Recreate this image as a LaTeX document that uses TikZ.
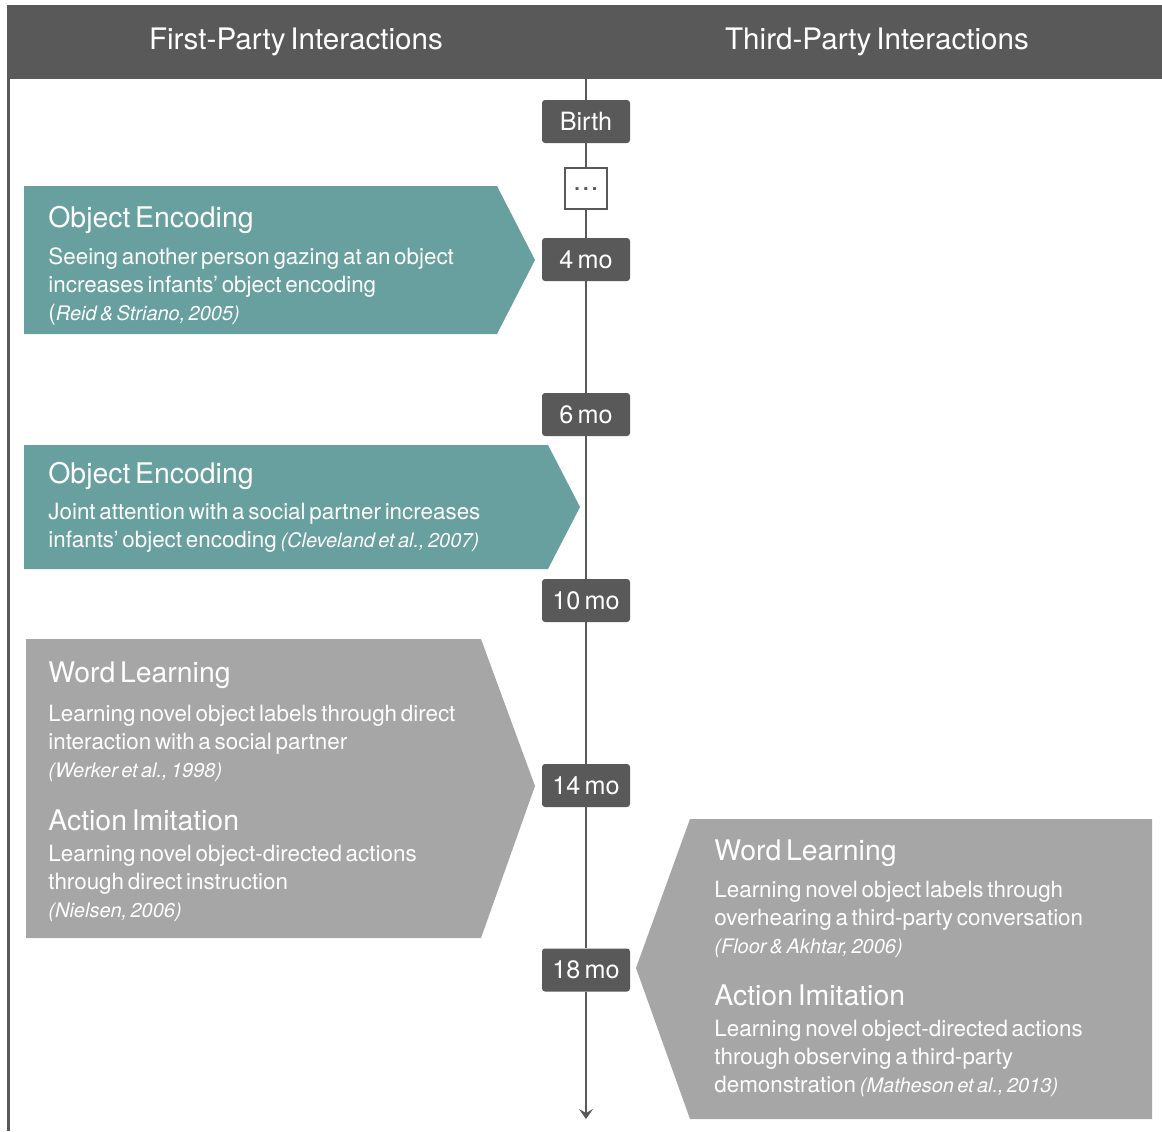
\documentclass[tikz,border=0pt]{standalone}
\usepackage{fontspec}
\setmainfont{TeX Gyre Heros}[WordSpace=0.6]
\usetikzlibrary{arrows.meta}

\definecolor{hdrgray}{HTML}{595959}
\definecolor{tealbox}{HTML}{68A0A0}
\definecolor{graybox}{HTML}{A6A6A6}

\newcommand{\cit}[1]{{\fontsize{10}{14}\selectfont\itshape #1}}

\tikzset{
  hdr/.style={text=white, inner sep=0pt, font=\fontsize{14.8}{16}\selectfont},
  agebox/.style={fill=hdrgray, text=white, rounded corners=1.5pt, minimum width=44pt,
    minimum height=21.5pt, inner sep=0pt, font=\fontsize{12.6}{14}\selectfont},
  dotsbox/.style={draw=hdrgray, line width=1pt, fill=white, minimum width=21pt,
    minimum height=20.5pt, inner sep=0pt, text=hdrgray},
  heading/.style={anchor=base west, text=white, inner sep=0pt, font=\fontsize{14.2}{16}\selectfont},
  blurb/.style={anchor=base west, align=left, text=white, inner sep=0pt,
    font=\fontsize{11.2}{14}\selectfont},
  timeline/.style={draw=hdrgray, line width=1pt}
}

\begin{document}
\begin{tikzpicture}[x=0.5pt, y=-0.5pt, >={Stealth[length=5pt, width=7pt, inset=2pt]}]
  \useasboundingbox (0,0) rectangle (1162,1131);

  % header band and left rule
  \fill[hdrgray] (7,5) rectangle (1162,79);
  \node[hdr] (firstparty) at (296,42) {First-Party Interactions};
  \node[hdr] (thirdparty) at (877,42) {Third-Party Interactions};
  \draw[hdrgray, line width=1.5pt] (8,79) -- (8,1131);

  % panels
  \fill[tealbox] (24,186) -- (497,186) -- (535,260) -- (497,334) -- (24,334) -- cycle;
  \fill[tealbox] (24,445) -- (548,445) -- (580,507) -- (548,569) -- (24,569) -- cycle;
  \fill[graybox] (26,639) -- (481,639) -- (535,786) -- (481,938) -- (26,938) -- cycle;
  \fill[graybox] (690,819) -- (1152,819) -- (1152,1119) -- (690,1119) -- (636,968) -- cycle;

  % ages on the timeline
  \coordinate (tltop) at (586,79);
  \coordinate (tlend) at (586,1119);
  \node[agebox] (birth) at (586,121.5) {Birth};
  \node[dotsbox] (dots) at (586,188) {\raisebox{-2pt}{\textbf{.\hspace{1.6pt}.\hspace{1.6pt}.}}};
  \node[agebox] (m4) at (586,259.5) {4 mo};
  \node[agebox] (m6) at (586,414.5) {6 mo};
  \node[agebox] (m10) at (586,600.5) {10 mo};
  \node[agebox] (m14) at (586,785.5) {14 mo};
  \node[agebox] (m18) at (586,970) {18 mo};
  \draw[timeline] (tltop) -- (birth) -- (dots) -- (m4) -- (m6) -- (m10) -- (m14) -- (m18);
  \draw[timeline, ->] (m18) -- (tlend);

  % first-party texts (blurbs sit on their last line)
  \node[heading] (enc1title) at (48,227) {Object Encoding};
  \node[blurb] (enc1text) at (48,320) {Seeing another person gazing at an object\\
    increases infants’ object encoding\\(\cit{Reid \& Striano, 2005)}};
  \node[heading] (enc2title) at (48,483) {Object Encoding};
  \node[blurb] (enc2text) at (48,547) {Joint attention with a social partner increases\\
    infants’ object encoding \cit{(Cleveland et al., 2007)}};
  \node[heading] (word1title) at (48,682) {Word Learning};
  \node[blurb] (word1text) at (48,777) {Learning novel object labels through direct\\
    interaction with a social partner\\\cit{(Werker et al., 1998)}};
  \node[heading] (act1title) at (48,830) {Action Imitation};
  \node[blurb] (act1text) at (48,917) {Learning novel object-directed actions\\
    through direct instruction\\\cit{(Nielsen, 2006)}};

  % third-party texts
  \node[heading] (word2title) at (714,860) {Word Learning};
  \node[blurb] (word2text) at (714,953) {Learning novel object labels through\\
    overhearing a third-party conversation\\\cit{(Floor \& Akhtar, 2006)}};
  \node[heading] (act2title) at (714,1005) {Action Imitation};
  \node[blurb] (act2text) at (714,1092) {Learning novel object-directed actions\\
    through observing a third-party\\demonstration \cit{(Matheson et al., 2013)}};
\end{tikzpicture}
\end{document}
